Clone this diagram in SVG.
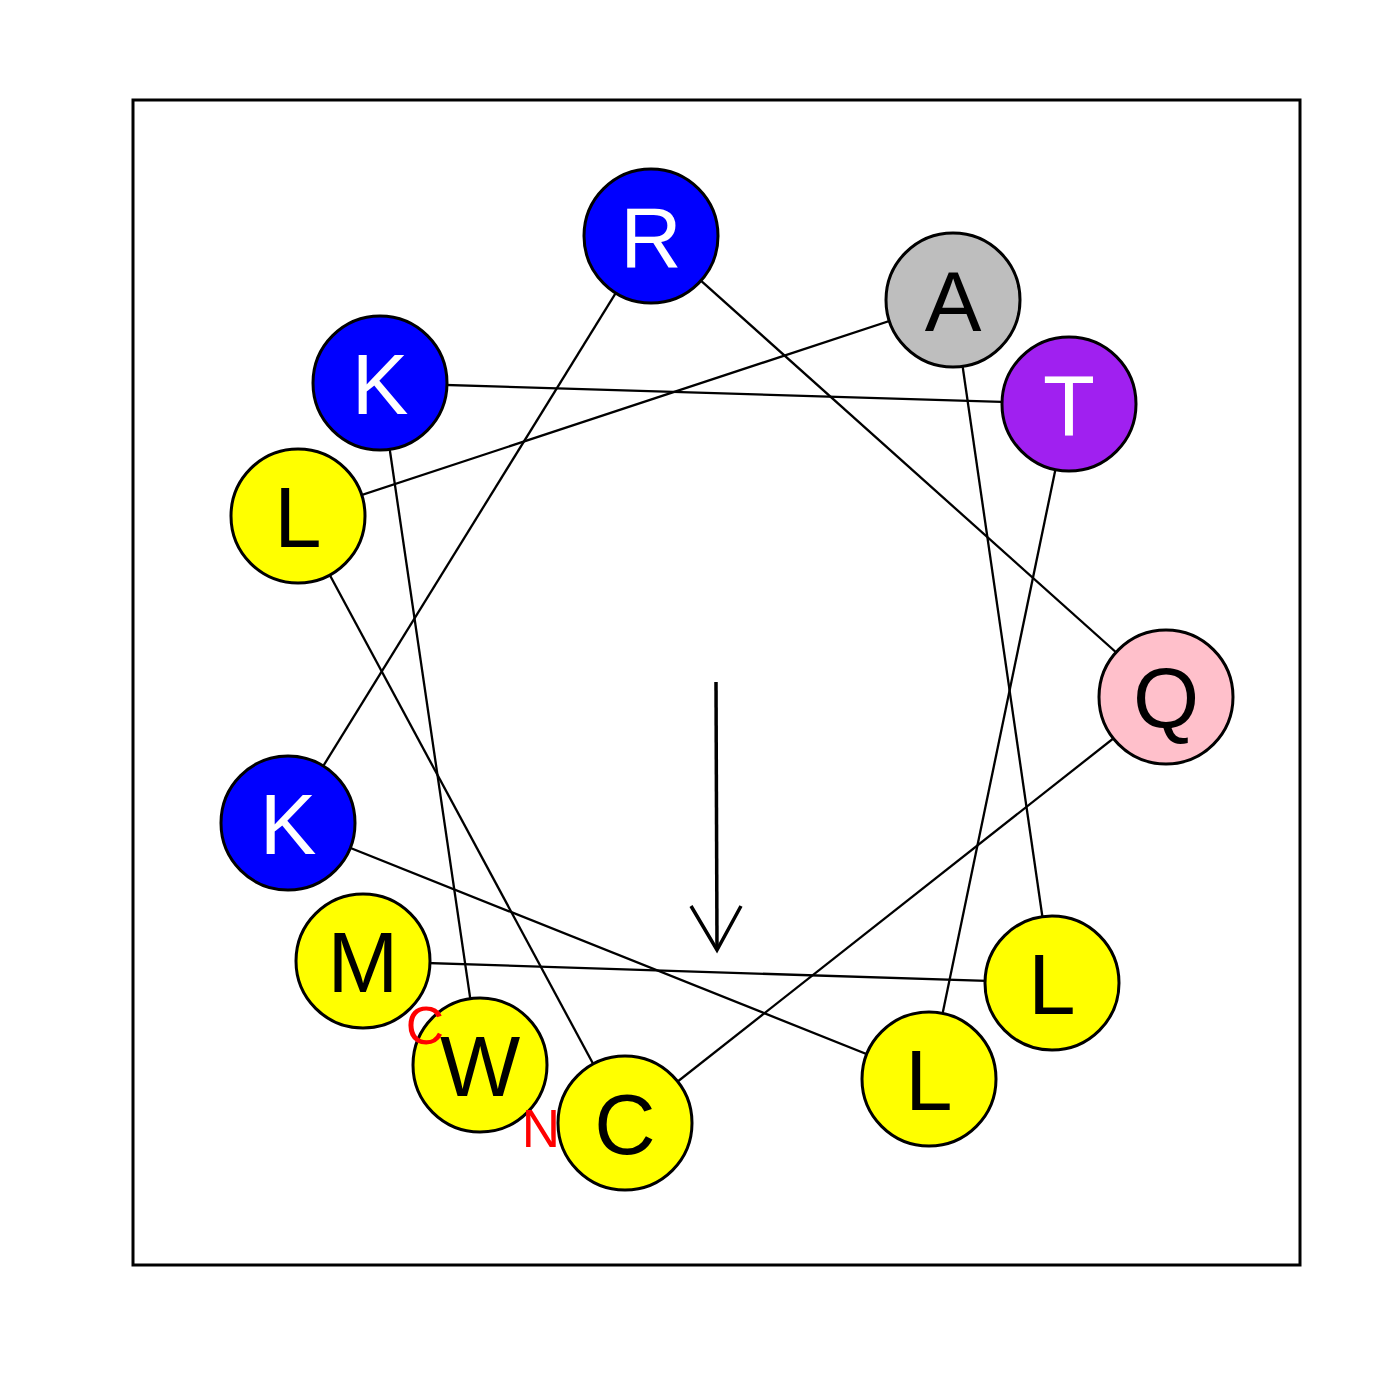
<svg xmlns="http://www.w3.org/2000/svg" width="1400" height="1400" viewBox="0 0 1400 1400">
<style>
.ln{stroke:#000;stroke-width:2.3;fill:none}
.res circle{stroke:#000;stroke-width:3}
.res text{font-family:"Liberation Sans",Arial,sans-serif;font-size:85px;text-anchor:middle}
.w{fill:#fff}.b{fill:#000}
.term{font-family:"Liberation Sans",Arial,sans-serif;font-size:53px;fill:#f00;text-anchor:middle}
</style>
<rect x="0" y="0" width="1400" height="1400" fill="#fff"/>
<rect x="133" y="100" width="1167" height="1165" fill="none" stroke="#000" stroke-width="3"/>
<g id="connectors">
<line class="ln" x1="625" y1="1123" x2="1166" y2="697"/>
<line class="ln" x1="1166" y1="697" x2="651" y2="236"/>
<line class="ln" x1="651" y1="236" x2="288" y2="823"/>
<line class="ln" x1="288" y1="823" x2="929" y2="1079"/>
<line class="ln" x1="929" y1="1079" x2="1069" y2="404"/>
<line class="ln" x1="1069" y1="404" x2="380" y2="383"/>
<line class="ln" x1="380" y1="383" x2="480" y2="1065"/>
<line class="ln" x1="363" y1="961" x2="1052" y2="983"/>
<line class="ln" x1="1052" y1="983" x2="953" y2="300"/>
<line class="ln" x1="953" y1="300" x2="298" y2="516"/>
<line class="ln" x1="298" y1="516" x2="625" y2="1123"/>
</g>
<g id="res-R" class="res"><circle cx="651" cy="236" r="67" fill="#0000ff"/><text x="651" y="267" class="w">R</text></g>
<g id="res-A" class="res"><circle cx="953" cy="300" r="67" fill="#bebebe"/><text x="953" y="331" class="b">A</text></g>
<g id="res-T" class="res"><circle cx="1069" cy="404" r="67" fill="#a020f0"/><text x="1069" y="435" class="w">T</text></g>
<g id="res-K1" class="res"><circle cx="380" cy="383" r="67" fill="#0000ff"/><text x="380" y="414" class="w">K</text></g>
<g id="res-L1" class="res"><circle cx="298" cy="516" r="67" fill="#ffff00"/><text x="298" y="547" class="b">L</text></g>
<g id="res-Q" class="res"><circle cx="1166" cy="697" r="67" fill="#ffc0cb"/><text x="1166" y="728" class="b">Q</text></g>
<g id="res-K2" class="res"><circle cx="288" cy="823" r="67" fill="#0000ff"/><text x="288" y="854" class="w">K</text></g>
<g id="res-M" class="res"><circle cx="363" cy="961" r="67" fill="#ffff00"/><text x="363" y="992" class="b">M</text></g>
<g id="res-W" class="res"><circle cx="480" cy="1065" r="67" fill="#ffff00"/><text x="480" y="1096" class="b">W</text></g>
<g id="res-C" class="res"><circle cx="625" cy="1123" r="67" fill="#ffff00"/><text x="625" y="1154" class="b">C</text></g>
<g id="res-L2" class="res"><circle cx="929" cy="1079" r="67" fill="#ffff00"/><text x="929" y="1110" class="b">L</text></g>
<g id="res-L3" class="res"><circle cx="1052" cy="983" r="67" fill="#ffff00"/><text x="1052" y="1014" class="b">L</text></g>
<g id="labels">
<text class="term" x="425" y="1044">C</text>
<text class="term" x="541" y="1147">N</text>
</g>
<g id="arrow">
<line x1="716" y1="682" x2="717" y2="950" stroke="#000" stroke-width="3.5"/>
<polyline points="691,906 717,950 741,906" fill="none" stroke="#000" stroke-width="3.5"/>
</g>
</svg>
